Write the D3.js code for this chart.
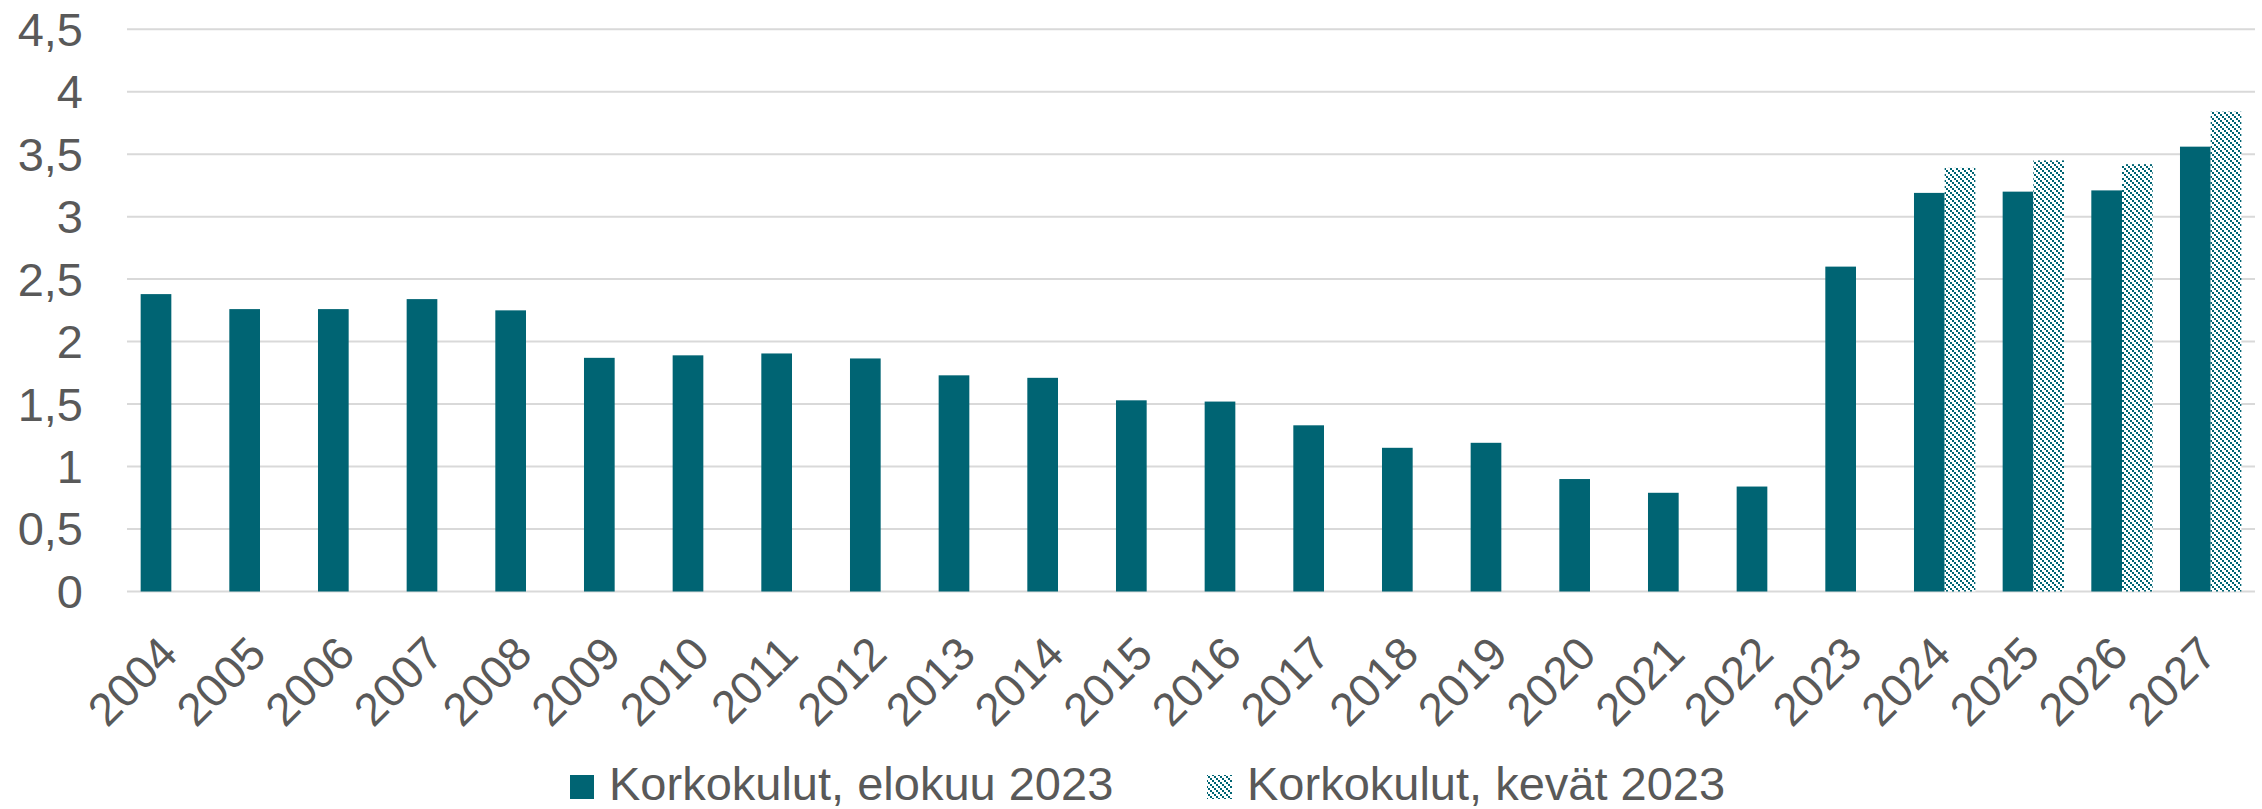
<!DOCTYPE html>
<html>
<head>
<meta charset="utf-8">
<script src="https://cdn.jsdelivr.net/npm/d3@7"></script>
<style>
  html, body { margin: 0; padding: 0; background: #ffffff; }
  svg { display: block; }
  text { font-family: "Liberation Sans", Arial, sans-serif; fill: #595959; }
</style>
</head>
<body>
<svg id="chart" width="2262" height="809"></svg>
<script>
const years = ["2004","2005","2006","2007","2008","2009","2010","2011","2012","2013","2014","2015","2016","2017","2018","2019","2020","2021","2022","2023","2024","2025","2026","2027"];
const elokuu = [2.38,2.26,2.26,2.34,2.25,1.87,1.89,1.905,1.865,1.73,1.71,1.53,1.52,1.33,1.15,1.19,0.90,0.79,0.84,2.60,3.19,3.20,3.21,3.56];
const kevat = [null,null,null,null,null,null,null,null,null,null,null,null,null,null,null,null,null,null,null,null,3.39,3.45,3.42,3.84];
const seriesNames = ["Korkokulut, elokuu 2023", "Korkokulut, kevät 2023"];
const yTicks = [0,0.5,1,1.5,2,2.5,3,3.5,4,4.5];

const teal = "#006473";
const svg = d3.select("#chart");

const defs = svg.append("defs");
const pat = defs.append("pattern")
  .attr("id", "hatch")
  .attr("patternUnits", "userSpaceOnUse")
  .attr("width", 6).attr("height", 6);
pat.append("rect").attr("width", 6).attr("height", 6).attr("fill", "#ffffff");
[[0,0],[2,2],[4,4]].forEach(p => {
  pat.append("rect").attr("x", p[0]).attr("y", p[1]).attr("width", 2).attr("height", 2).attr("fill", teal);
});

const x0 = d3.scaleBand().domain(years).range([127, 2255]).paddingInner(0.308).paddingOuter(0.154);
const x1 = d3.scaleBand().domain(["a","b"]).range([0, x0.bandwidth()]);
const y = d3.scaleLinear().domain([0, 4.5]).range([591.5, 29.2]);

// gridlines
svg.append("g").selectAll("line").data(yTicks).join("line")
  .attr("x1", 127).attr("x2", 2255)
  .attr("y1", d => y(d)).attr("y2", d => y(d))
  .attr("stroke", "#d9d9d9").attr("stroke-width", 2);

// y labels
svg.append("g").selectAll("text").data(yTicks).join("text")
  .attr("x", 83).attr("y", d => y(d)).attr("dy", "0.35em")
  .attr("text-anchor", "end").attr("font-size", 47)
  .text(d => d3.format(".1~f")(d).replace(".", ","));

// bars
const data = years.map((yr, i) => ({ yr, a: elokuu[i], b: kevat[i] }));
const g = svg.append("g");
g.selectAll("rect.a").data(data).join("rect").attr("class", "a")
  .attr("x", d => x0(d.yr) + x1("a"))
  .attr("width", x1.bandwidth())
  .attr("y", d => y(d.a))
  .attr("height", d => y(0) - y(d.a))
  .attr("fill", teal);
g.selectAll("rect.b").data(data.filter(d => d.b != null)).join("rect").attr("class", "b")
  .attr("x", d => x0(d.yr) + x1("b"))
  .attr("width", x1.bandwidth())
  .attr("y", d => y(d.b))
  .attr("height", d => y(0) - y(d.b))
  .attr("fill", "url(#hatch)");

// x labels
svg.append("g").selectAll("text").data(years).join("text")
  .attr("transform", d => `translate(${x0(d) + x0.bandwidth()/2 - 3},645) rotate(-45)`)
  .attr("dy", "0.35em")
  .attr("text-anchor", "end").attr("font-size", 46)
  .text(d => d);

// legend
const leg = svg.append("g");
leg.append("rect").attr("x", 570).attr("y", 775).attr("width", 24).attr("height", 24).attr("fill", teal);
leg.append("text").attr("x", 609).attr("y", 800).attr("font-size", 47).text(seriesNames[0]);
leg.append("rect").attr("x", 1207).attr("y", 775).attr("width", 25).attr("height", 24).attr("fill", "url(#hatch)");
leg.append("text").attr("x", 1247).attr("y", 800).attr("font-size", 47).text(seriesNames[1]);
</script>
</body>
</html>
